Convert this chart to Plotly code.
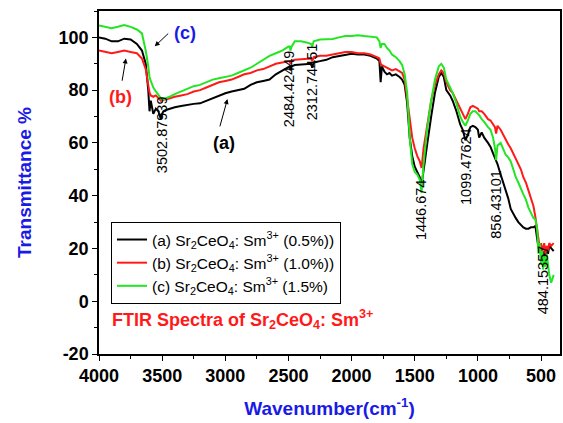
import plotly.graph_objects as go

wavenumber = [4000, 3950, 3900, 3850, 3800, 3750, 3700, 3660, 3630, 3610, 3600, 3590, 3570, 3550, 3530, 3510, 3500, 3490, 3470, 3440,
              3400, 3350, 3300, 3250, 3200, 3150, 3100, 3050, 3000, 2950, 2900, 2850, 2800, 2750, 2700, 2650, 2600, 2550, 2500, 2490,
              2484, 2475, 2450, 2400, 2350, 2320, 2312, 2300, 2250, 2200, 2150, 2100, 2050, 2000, 1950, 1900, 1850, 1800, 1780, 1770,
              1760, 1740, 1720, 1700, 1680, 1650, 1620, 1600, 1580, 1560, 1540, 1520, 1500, 1480, 1460, 1446, 1430, 1400, 1370, 1340,
              1310, 1290, 1270, 1250, 1220, 1200, 1170, 1140, 1120, 1099, 1080, 1060, 1040, 1020, 1000, 990, 970, 950, 920, 900,
              880, 865, 856, 845, 820, 800, 780, 760, 740, 720, 700, 680, 660, 640, 620, 600, 580, 560, 545, 530,
              520, 510, 500, 490, 484, 475, 465, 455, 445, 435, 420, 400]

trans_a = [100, 99.5, 98.5, 98.5, 99.5, 99.2, 97.5, 95, 90, 80, 72, 76, 71, 73, 72, 69, 71, 72, 72.5, 73,
           73.5, 74, 74.5, 74.8, 75, 76, 77, 78, 78.8, 79.5, 80, 80.5, 82, 83, 83.5, 84, 86, 87.5, 89, 89,
           87.5, 89, 89.5, 89.8, 90, 90, 88.5, 90.5, 91, 91.5, 92.5, 93, 93.5, 93.8, 93.5, 93.5, 93, 92, 91, 83,
           89, 87, 86, 86.5, 85.5, 86, 85, 84, 82, 75, 62, 55, 51, 49, 47, 44, 50, 60, 70, 79,
           85, 86.5, 85, 80, 78, 76, 72, 67, 65, 61, 63, 66, 66.5, 66, 65, 62, 64, 62, 60, 58.5,
           56, 54.5, 53, 52, 48, 45, 42, 39, 35, 33, 31.5, 30, 29, 28, 27.5, 27.5, 28, 28, 28.5, 24,
           20, 22, 18, 17, 15, 19, 17, 20, 18, 21, 20, 19]

trans_b = [95, 94.5, 94, 94.5, 95, 94.5, 94, 92, 88, 82, 79, 78, 77.5, 78, 77, 76, 76, 76.5, 76.5, 77,
           77.5, 78, 78.5, 79.5, 80, 81, 82, 83, 83.5, 84, 85, 86, 86.5, 87.5, 88, 89, 90, 90.5, 91, 91,
           90, 91, 91.5, 91.8, 92, 92, 91, 92.5, 93, 93, 93.5, 94, 94.5, 94.5, 94, 94, 93.5, 92.5, 92, 90,
           89.5, 89, 88.5, 88, 87.5, 88, 87, 86.5, 84, 77, 68, 62, 58, 55, 53, 50.5, 58, 68, 76, 82,
           86, 87.5, 86.5, 83, 80, 79, 76, 73, 71, 69, 71, 73.5, 74, 73.5, 73, 72, 72, 71, 69, 68.5,
           67, 66, 63.5, 66.5, 65, 63, 61, 59.5, 58, 56, 54, 52, 50, 47, 45, 42, 39, 36, 32, 27,
           24, 20, 22, 19, 20, 22, 18, 21, 19, 22, 21, 22]

trans_c = [104.5, 104, 103.5, 104, 104.7, 104, 103, 101.5, 95, 89, 85, 83.5, 81, 79.5, 78, 77, 76.5, 76.5, 77, 77.5,
           78.5, 79.5, 80.5, 81.5, 82, 83, 84, 84.5, 85, 85.5, 86.5, 87.5, 88.5, 90, 91.5, 93, 94, 95, 96.5, 96.5,
           95, 96.5, 98.5, 98.5, 98, 97.5, 96.5, 98.5, 99.2, 99.4, 99.4, 100, 100.5, 100.5, 100.8, 100.5, 100.3, 100, 98.5, 96,
           97.5, 97.5, 96, 95, 93.5, 92.5, 91, 89.5, 86, 79, 62, 52, 49, 48, 46, 41, 52, 66, 76, 84,
           89, 90, 88.5, 84, 81, 79, 75, 70, 68, 66.5, 68.5, 71, 72, 72, 71, 70.5, 69, 68, 66, 65,
           62, 58, 53.5, 59, 60, 58, 55.5, 54.5, 53, 50, 47, 45, 42.5, 40.5, 38.5, 35.5, 33.5, 31.5, 31, 27,
           18, 22, 14, 19, 12, 17, 13, 18, 14, 10, 7, 10]

series_names = ["(a) Sr<sub>2</sub>CeO<sub>4</sub>: Sm<sup>3+</sup> (0.5%))",
                "(b) Sr<sub>2</sub>CeO<sub>4</sub>: Sm<sup>3+</sup> (1.0%))",
                "(c) Sr<sub>2</sub>CeO<sub>4</sub>: Sm<sup>3+</sup> (1.5%)"]
series_colors = ["#000000", "#ff1a1a", "#22e622"]

peak_labels = ["3502.87939", "2484.42449", "2312.74451", "1446.674", "1099.47624", "856.43101", "484.15357"]
peak_x = [3500, 2495, 2313, 1455, 1100, 856, 485]
peak_y = [63, 80.4, 83, 34.7, 51, 36.6, 8.3]

x_ticks = [4000, 3500, 3000, 2500, 2000, 1500, 1000, 500]
x_tick_text = ["4000", "3500", "3000", "2500", "2000", "1500", "1000", "500"]
y_ticks = [-20, 0, 20, 40, 60, 80, 100]
y_tick_text = ["-20", "0", "20", "40", "60", "80", "100"]

FONT = "Liberation Sans, Arial, sans-serif"

fig = go.Figure()
for vals, name, col in zip([trans_a, trans_b, trans_c], series_names, series_colors):
    fig.add_trace(go.Scatter(x=wavenumber, y=vals, mode="lines", name=name,
                             line=dict(color=col, width=2)))

annotations = []
for txt, px, py in zip(peak_labels, peak_x, peak_y):
    annotations.append(dict(x=px, y=py, xref="x", yref="y", text=txt, textangle=-90,
                            showarrow=False, font=dict(family=FONT, size=14.5, color="black")))

annotations += [
    dict(x=3007, y=60, xref="x", yref="y", text="<b>(a)</b>", showarrow=False,
         font=dict(family=FONT, size=18, color="black")),
    dict(x=2983, y=76.6, ax=3046, ay=65.7, xref="x", yref="y", axref="x", ayref="y", text="",
         showarrow=True, arrowhead=2, arrowsize=1, arrowwidth=1, arrowcolor="black"),
    dict(x=3827, y=77.4, xref="x", yref="y", text="<b>(b)</b>", showarrow=False,
         font=dict(family=FONT, size=18, color="#ff1a1a")),
    dict(x=3787, y=92, ax=3819, ay=83, xref="x", yref="y", axref="x", ayref="y", text="",
         showarrow=True, arrowhead=2, arrowsize=1, arrowwidth=1, arrowcolor="black"),
    dict(x=3322, y=101.5, xref="x", yref="y", text="<b>(c)</b>", showarrow=False,
         font=dict(family=FONT, size=18, color="#1a1ae6")),
    dict(x=3559, y=96.6, ax=3440, ay=102, xref="x", yref="y", axref="x", ayref="y", text="",
         showarrow=True, arrowhead=2, arrowsize=1, arrowwidth=1, arrowcolor="black"),
    dict(x=0.024, y=0.100, xref="paper", yref="paper", xanchor="left", yanchor="middle",
         text="<b>FTIR Spectra of Sr<sub>2</sub>CeO<sub>4</sub>: Sm<sup>3+</sup></b>", showarrow=False,
         font=dict(family=FONT, size=18, color="#ff1a1a")),
]

fig.update_layout(
    width=563, height=423,
    margin=dict(l=99, r=1, t=11, b=69),
    paper_bgcolor="white", plot_bgcolor="white",
    font=dict(family=FONT, color="black"),
    annotations=annotations,
    legend=dict(x=0.026, y=0.385, xanchor="left", yanchor="top",
                bordercolor="black", borderwidth=1, bgcolor="white",
                font=dict(family=FONT, size=15.5, color="black"), tracegroupgap=0),
    xaxis=dict(range=[4000, 350], tickvals=x_ticks, ticktext=x_tick_text, ticks="outside", ticklen=5, tickwidth=1.2,
               minor=dict(ticks="outside", ticklen=3, dtick=250, tick0=0, tickwidth=1.2, tickcolor="black"),
               showline=True, linecolor="black", linewidth=1.5, mirror=True,
               showgrid=False, zeroline=False, tickcolor="black",
               tickfont=dict(family=FONT, size=18, color="black", weight="bold"),
               title=dict(text="Wavenumber(cm<sup>-1</sup>)", standoff=16,
                          font=dict(family=FONT, size=19, color="#1a1ae6", weight="bold"))),
    yaxis=dict(range=[-20, 110], tickvals=y_ticks, ticktext=y_tick_text, ticks="outside", ticklen=5, tickwidth=1.2,
               minor=dict(ticks="outside", ticklen=3, dtick=10, tick0=0, tickwidth=1.2, tickcolor="black"),
               showline=True, linecolor="black", linewidth=1.5, mirror=True,
               showgrid=False, zeroline=False, tickcolor="black",
               tickfont=dict(family=FONT, size=18, color="black", weight="bold"),
               title=dict(text="Transmittance %", standoff=22,
                          font=dict(family=FONT, size=19, color="#1a1ae6", weight="bold"))),
)

fig.write_html("out.html")
